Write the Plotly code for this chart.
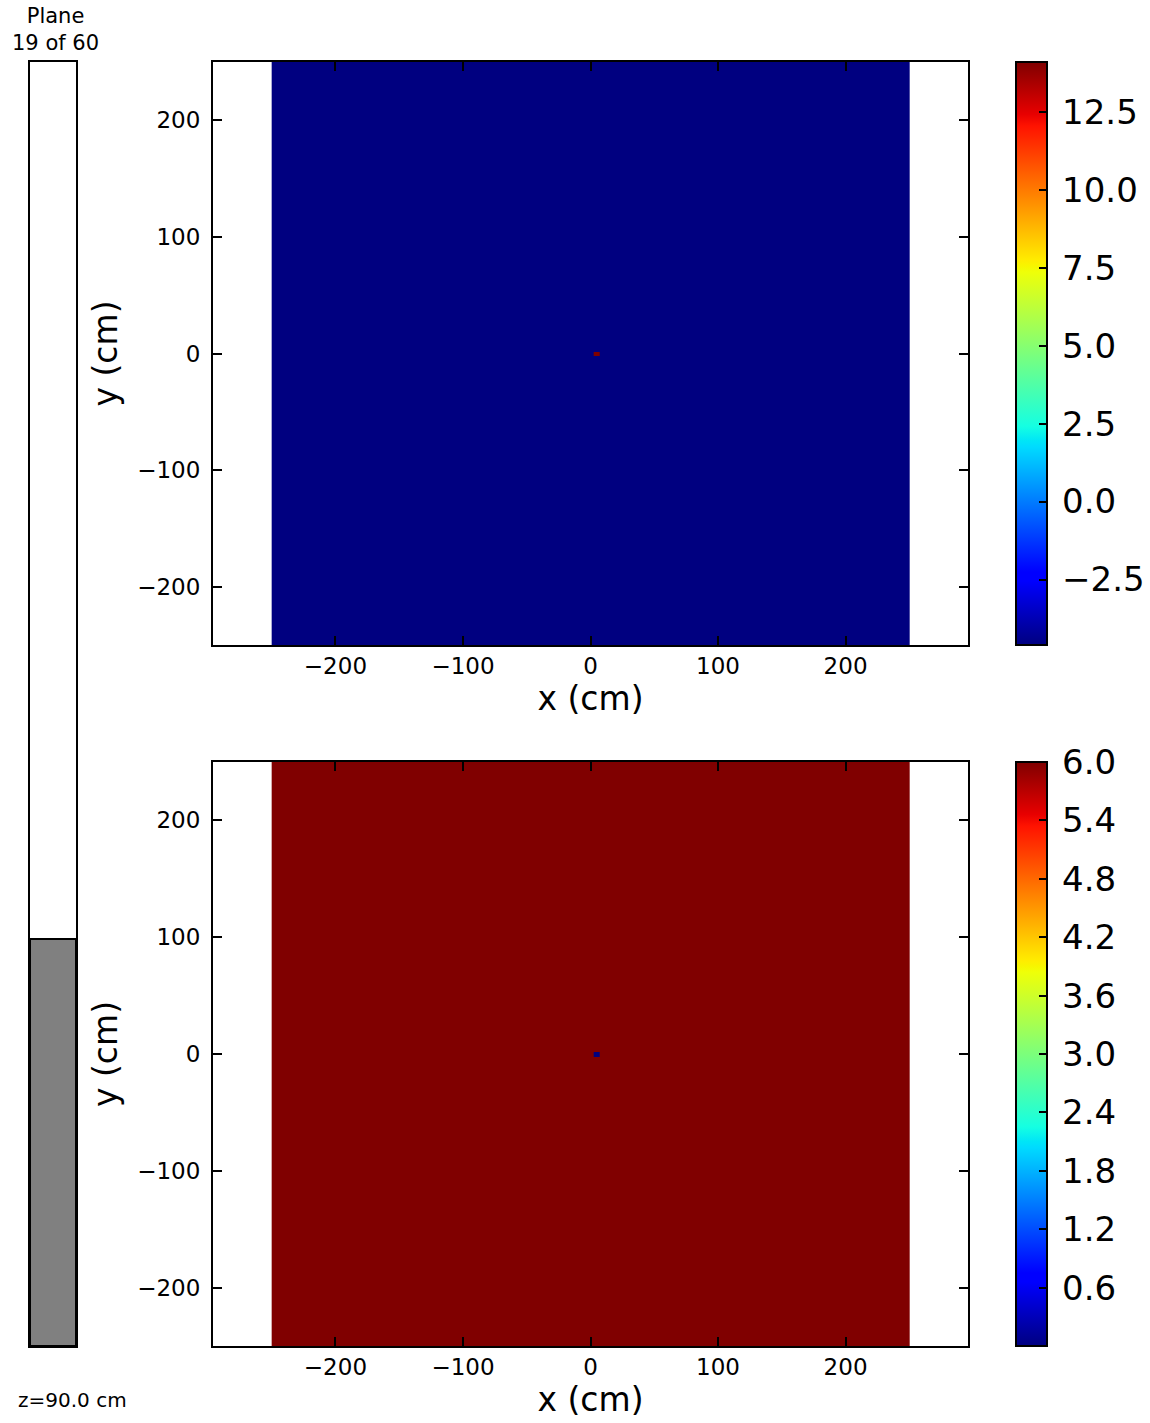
import numpy as np
import plotly.graph_objects as go

# ---- data -------------------------------------------------------------
plane_index = 19
plane_count = 60
z_position_cm = 90.0

# cell edges (cm): one hot cell near the origin inside a uniform 500x500 cm field
x_edges = [-250.0, 2.5, 7.0, 250.0]
y_edges = [-250.0, -2.5, 1.5, 250.0]

top_background = -4.6
top_peak = 14.1
bottom_background = 6.0
bottom_peak = 0.0

top_ticks = [-2.5, 0.0, 2.5, 5.0, 7.5, 10.0, 12.5]
bottom_ticks = [0.6, 1.2, 1.8, 2.4, 3.0, 3.6, 4.2, 4.8, 5.4, 6.0]
xy_ticks = [-200, -100, 0, 100, 200]


def field(background, peak):
    z = np.full((3, 3), background)
    z[1, 1] = peak
    return z


# ---- matplotlib-style "jet" colormap -----------------------------------
_jet = {
    "r": [(0, 0), (0.35, 0), (0.66, 1), (0.89, 1), (1, 0.5)],
    "g": [(0, 0), (0.125, 0), (0.375, 1), (0.64, 1), (0.91, 0), (1, 0)],
    "b": [(0, 0.5), (0.11, 1), (0.34, 1), (0.65, 0), (1, 0)],
}
_stops = sorted({p for ch in _jet.values() for p, _ in ch})


def _chan(ch, t):
    xs = [p for p, _ in _jet[ch]]
    ys = [v for _, v in _jet[ch]]
    return float(np.interp(t, xs, ys))


JET = [
    [t, "rgb(%d,%d,%d)" % tuple(round(255 * _chan(c, t)) for c in "rgb")]
    for t in _stops
]


def cb_label(v):
    # leading thin space keeps the label clear of the inside tick marks
    return "\u2009" + f"{v:.1f}".replace("-", "\u2212")


# ---- geometry (pixels) -------------------------------------------------
W, H = 1150, 1423
FONT = "DejaVu Sans"


def px_x(v):
    return v / W


def px_y(v):
    return 1 - v / H


ax_left, ax_right = 213, 968
top_y0, top_y1 = 62, 645
bot_y0, bot_y1 = 762, 1346
cb_left = 1016


def colorbar(y0, y1, ticks):
    return dict(
        x=px_x(cb_left), xanchor="left", xpad=0, ypad=0,
        y=px_y(y0), yanchor="top", len=y1 - y0, lenmode="pixels",
        thickness=31, outlinewidth=2, outlinecolor="black",
        ticks="inside", ticklen=9, tickwidth=1.5, tickcolor="black",
        tickvals=ticks, ticktext=[cb_label(t) for t in ticks],
        tickfont=dict(family=FONT, size=34, color="black"),
    )


fig = go.Figure()

fig.add_trace(go.Heatmap(
    x=x_edges, y=y_edges, z=field(top_background, top_peak),
    colorscale=JET, zmin=top_background, zmax=top_peak,
    xaxis="x", yaxis="y",
    colorbar=colorbar(top_y0, top_y1, top_ticks),
))

fig.add_trace(go.Heatmap(
    x=x_edges, y=y_edges, z=field(bottom_background, bottom_peak),
    colorscale=JET, zmin=bottom_peak, zmax=bottom_background,
    xaxis="x2", yaxis="y2",
    colorbar=colorbar(bot_y0, bot_y1, bottom_ticks),
))

# progress bar showing which plane is displayed
fig.add_trace(go.Bar(
    x=[0], y=[plane_index], width=[1],
    marker=dict(color="#808080", line=dict(color="black", width=2)),
    xaxis="x3", yaxis="y3", showlegend=False, hoverinfo="skip",
))

axis_common = dict(
    showline=True, linewidth=2, linecolor="black", mirror="allticks",
    ticks="inside", ticklen=9, tickwidth=1.5, tickcolor="black",
    showgrid=False, zeroline=False,
    tickfont=dict(family=FONT, size=23, color="black"),
)

x_dom = [px_x(ax_left), px_x(ax_right)]
title_font = dict(family=FONT, size=33, color="black")

fig.update_layout(
    width=W, height=H,
    margin=dict(l=0, r=0, t=0, b=0, autoexpand=False),
    paper_bgcolor="white", plot_bgcolor="white",
    bargap=0,
    showlegend=False,
    xaxis=dict(axis_common, domain=x_dom, range=[-296, 296], tickvals=xy_ticks,
               anchor="y", ticklabelstandoff=-1,
               title=dict(text="x (cm)", font=title_font, standoff=8)),
    yaxis=dict(axis_common, domain=[px_y(top_y1), px_y(top_y0)], range=[-250, 250],
               tickvals=xy_ticks, anchor="x", ticklabelstandoff=6,
               title=dict(text="y (cm)", font=title_font, standoff=10)),
    xaxis2=dict(axis_common, domain=x_dom, range=[-296, 296], tickvals=xy_ticks,
                anchor="y2", ticklabelstandoff=-1,
                title=dict(text="x (cm)", font=title_font, standoff=8)),
    yaxis2=dict(axis_common, domain=[px_y(bot_y1), px_y(bot_y0)], range=[-250, 250],
                tickvals=xy_ticks, anchor="x2", ticklabelstandoff=6,
                title=dict(text="y (cm)", font=title_font, standoff=10)),
    xaxis3=dict(domain=[px_x(30), px_x(76)], range=[-0.5, 0.5], anchor="y3",
                showline=True, linewidth=2, linecolor="black", mirror=True,
                showticklabels=False, ticks="", showgrid=False, zeroline=False),
    yaxis3=dict(domain=[px_y(bot_y1), px_y(top_y0)], range=[0, plane_count], anchor="x3",
                showline=True, linewidth=2, linecolor="black", mirror=True,
                showticklabels=False, ticks="", showgrid=False, zeroline=False),
    annotations=[
        dict(text=f"Plane<br>{plane_index} of {plane_count}", x=px_x(55), y=px_y(29),
             xref="paper", yref="paper", xanchor="center", yanchor="middle",
             showarrow=False, font=dict(family=FONT, size=21, color="black")),
        dict(text=f"z={z_position_cm:.1f} cm", x=px_x(16), y=px_y(1400),
             xref="paper", yref="paper", xanchor="left", yanchor="middle",
             showarrow=False, font=dict(family=FONT, size=20, color="black")),
    ],
)

fig.write_html("out.html")
